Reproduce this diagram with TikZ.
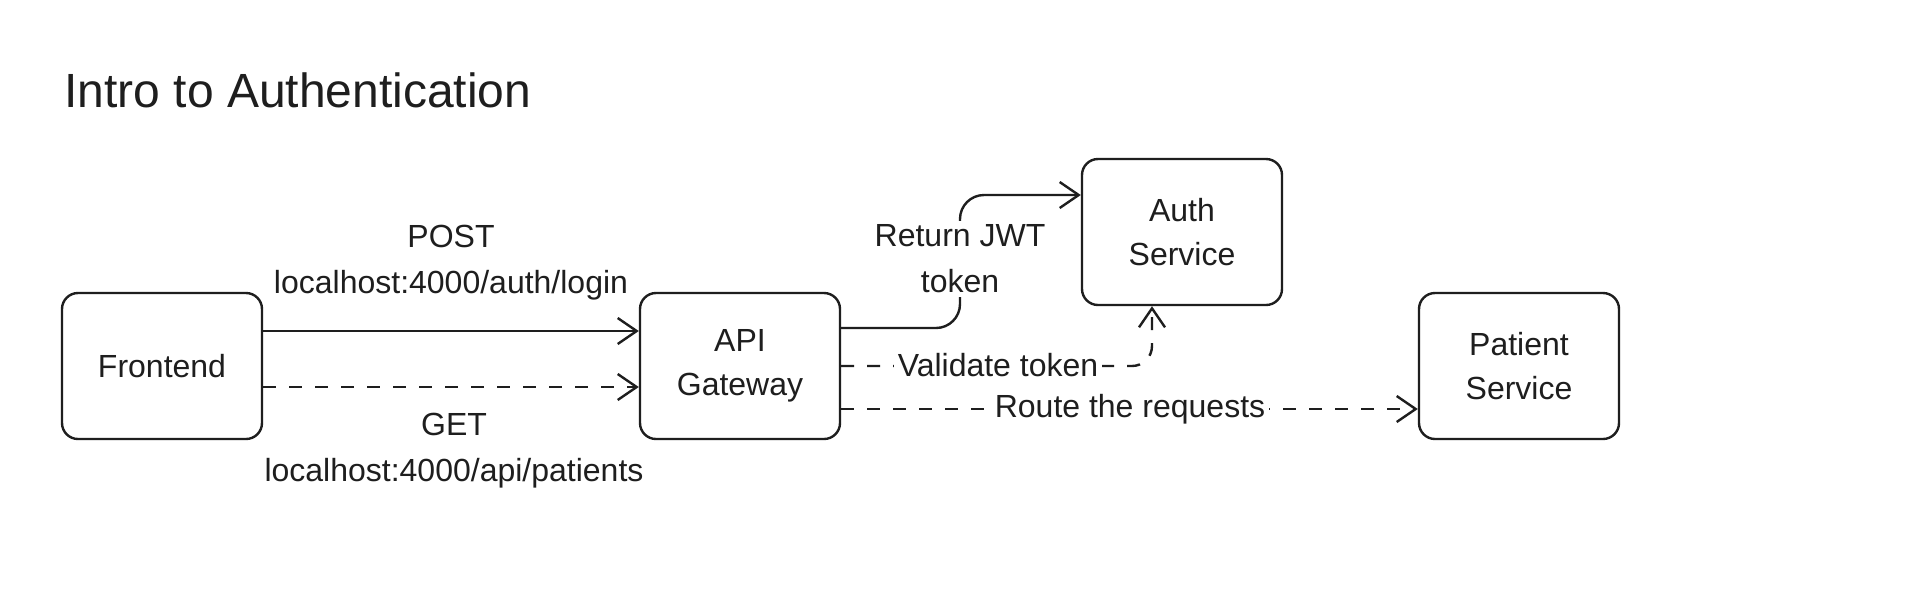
\documentclass[tikz,border=0pt]{standalone}
\usepackage{fontspec}
\setmainfont{Liberation Sans}
\usetikzlibrary{arrows.meta}
\definecolor{ink}{HTML}{1E1E1E}
\begin{document}
\begin{tikzpicture}[x=0.5pt,y=-0.5pt,
  box/.style={draw=ink, line width=1.2pt, rounded corners=8pt, minimum width=100pt, minimum height=73pt, align=center, font=\fontsize{16}{22}\selectfont, text=ink, inner sep=0pt},
  conn/.style={draw=ink, line width=1.2pt, -{Straight Barb[length=9.5pt,width=13pt,line width=1.2pt]}},
  dsh/.style={dash pattern=on 6.5pt off 6.5pt},
  lbl/.style={fill=white, text=ink, align=center, font=\fontsize{16}{23}\selectfont, inner sep=2pt},
  txt/.style={text=ink, align=center, font=\fontsize{16}{23}\selectfont, inner sep=2pt}
]
\useasboundingbox[fill=white] (0,0) rectangle (1932,602);
\node[anchor=base west, font=\fontsize{24}{28}\selectfont, text=ink, inner sep=0pt] (title) at (64,107) {Intro to Authentication};
\node[box] (fe) at (162,366) {Frontend};
\node[box] (api) at (740,366) {API\\Gateway};
\node[box] (auth) at (1182,232) {Auth\\Service};
\node[box] (pat) at (1519,366) {Patient\\Service};

\coordinate (jx) at (960,0);
\coordinate (r1) at ([yshift=19pt]api.east);
\coordinate (r2) at ([yshift=18.5pt]auth.west);

\draw[conn] ([yshift=17.5pt]fe.east) -- ([yshift=17.5pt]api.west);
\draw[conn,dsh] ([yshift=-10.5pt]fe.east) -- ([yshift=-10.5pt]api.west);
\draw[conn, rounded corners=12pt] (r1) -- (r1 -| jx) -- (jx |- r2) -- (r2);
\draw[conn,dsh,rounded corners=10pt] (api.east) -| ([xshift=-15pt]auth.south);
\draw[conn,dsh] ([yshift=-21.5pt]api.east) -- ([yshift=-21.5pt]pat.west);

\node[txt] (lpost) at (451,263) {POST\\localhost:4000/auth/login};
\node[txt] (lget) at (454,451) {GET\\localhost:4000/api/patients};
\node[lbl] (lret) at (960,259) {Return JWT\\token};
\node[lbl] (lval) at (998,365) {Validate token};
\node[lbl] (lroute) at (1130,409) {Route the requests};
\end{tikzpicture}
\end{document}
